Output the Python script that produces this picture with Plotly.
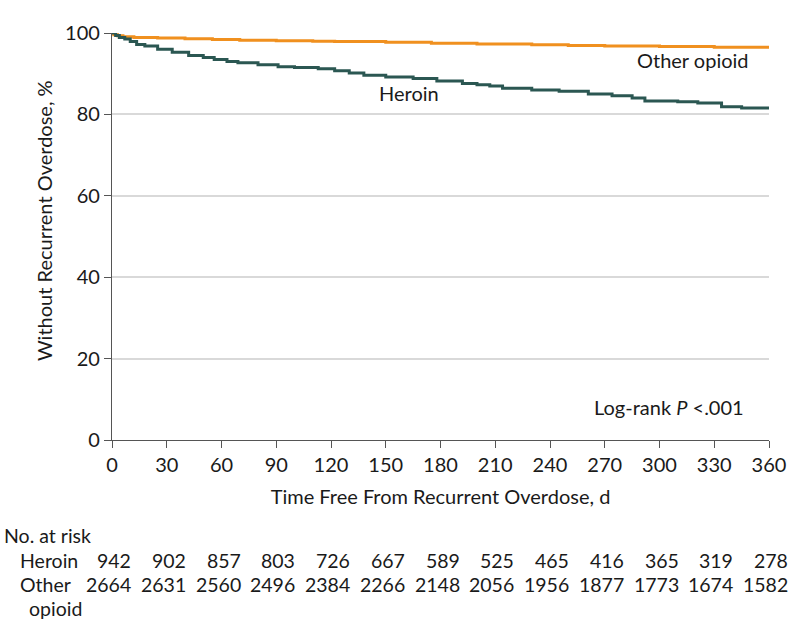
import plotly.graph_objects as go

# Kaplan-Meier step data
heroin_days = [0, 2, 4, 7, 10, 13.5, 18, 25, 33, 42, 50, 56, 63, 69, 80, 91, 100, 113, 122, 130, 138, 150, 165, 178, 192, 200, 207, 214, 230, 245, 261, 274, 285, 292, 310, 321, 334, 345, 360]
heroin_surv = [100, 99.4, 98.9, 98.5, 97.9, 97.2, 96.8, 96.0, 95.3, 94.5, 94.0, 93.5, 93.0, 92.7, 92.2, 91.7, 91.5, 91.2, 90.7, 90.2, 89.6, 89.2, 88.8, 88.2, 87.6, 87.3, 87.0, 86.4, 86.0, 85.7, 85.0, 84.6, 84.0, 83.3, 83.1, 82.8, 81.9, 81.6, 81.5]

other_days = [0, 1, 3, 6, 12, 25, 40, 55, 70, 90, 110, 122, 150, 175, 200, 230, 250, 270, 300, 330, 360]
other_surv = [100, 99.6, 99.3, 99.1, 98.9, 98.8, 98.6, 98.4, 98.2, 98.1, 98.0, 97.9, 97.7, 97.5, 97.3, 97.1, 96.9, 96.8, 96.7, 96.5, 96.4]

risk_days = [0, 30, 60, 90, 120, 150, 180, 210, 240, 270, 300, 330, 360]
risk_heroin = [942, 902, 857, 803, 726, 667, 589, 525, 465, 416, 365, 319, 278]
risk_other = [2664, 2631, 2560, 2496, 2384, 2266, 2148, 2056, 1956, 1877, 1773, 1674, 1582]

y_ticks = [0, 20, 40, 60, 80, 100]

FONT = "Lato"
TXT = "#1a1a1a"
HEROIN_COLOR = "#2b5752"
OTHER_COLOR = "#f0901f"
FS = 20
FT = 19.5

fig = go.Figure()
fig.add_trace(go.Scatter(x=other_days, y=other_surv, mode="lines",
                         line=dict(color=OTHER_COLOR, width=3, shape="hv"),
                         name="Other opioid", hoverinfo="skip"))
fig.add_trace(go.Scatter(x=heroin_days, y=heroin_surv, mode="lines",
                         line=dict(color=HEROIN_COLOR, width=3, shape="hv"),
                         name="Heroin", hoverinfo="skip"))

annotations = []
# curve labels
annotations.append(dict(x=163, y=85.2, xref="x", yref="y", text="Heroin", showarrow=False,
                        font=dict(family=FONT, size=FS, color=TXT), xanchor="center", yanchor="middle"))
annotations.append(dict(x=360, y=93.4, xref="x", yref="y", text="Other opioid", showarrow=False,
                        font=dict(family=FONT, size=FS, color=TXT), xanchor="right", yanchor="middle", xshift=-18))
annotations.append(dict(x=360, y=8.2, xref="x", yref="y", text="Log-rank <i>P</i> <.001", showarrow=False,
                        font=dict(family=FONT, size=FS, color=TXT), xanchor="right", yanchor="middle", xshift=-23))

# y-axis title (positioned as in the reference, slightly above centre)
annotations.append(dict(x=-0.1035, y=0.538, xref="paper", yref="paper", text="Without Recurrent Overdose, %",
                        showarrow=False, textangle=-90, xanchor="center", yanchor="middle",
                        font=dict(family=FONT, size=FS, color=TXT)))

# risk table
def py(pix):
    return (440 - pix) / 407.0

annotations.append(dict(x=-0.1674, y=py(535), xref="paper", yref="paper", text="No. at risk",
                        showarrow=False, xanchor="left", yanchor="middle",
                        font=dict(family=FONT, size=FT, color=TXT)))
annotations.append(dict(x=-0.1431, y=py(560), xref="paper", yref="paper", text="Heroin",
                        showarrow=False, xanchor="left", yanchor="middle",
                        font=dict(family=FONT, size=FT, color=TXT)))
annotations.append(dict(x=-0.1431, y=py(584), xref="paper", yref="paper", text="Other",
                        showarrow=False, xanchor="left", yanchor="middle",
                        font=dict(family=FONT, size=FT, color=TXT)))
annotations.append(dict(x=-0.129, y=py(608), xref="paper", yref="paper", text="opioid",
                        showarrow=False, xanchor="left", yanchor="middle",
                        font=dict(family=FONT, size=FT, color=TXT)))
for d, h, o in zip(risk_days, risk_heroin, risk_other):
    annotations.append(dict(x=d, y=py(560), xref="x", yref="paper", text=str(h), showarrow=False,
                            xanchor="right", yanchor="middle", xshift=21,
                            font=dict(family=FONT, size=FT, color=TXT)))
    annotations.append(dict(x=d, y=py(584), xref="x", yref="paper", text=str(o), showarrow=False,
                            xanchor="right", yanchor="middle", xshift=21,
                            font=dict(family=FONT, size=FT, color=TXT)))

fig.update_layout(
    width=794, height=637,
    margin=dict(l=112, r=25, t=33, b=197, autoexpand=False),
    plot_bgcolor="white", paper_bgcolor="white",
    showlegend=False,
    font=dict(family=FONT, size=FS, color=TXT),
    annotations=annotations,
    xaxis=dict(range=[0, 360], tickvals=risk_days, ticks="outside", ticklen=7, tickwidth=1.2,
               tickcolor="#555555", showline=True, linecolor="#555555", linewidth=1.2,
               showgrid=False, zeroline=False, automargin=False,
               tickfont=dict(family=FONT, size=FS, color=TXT),
               title=dict(text="Time Free From Recurrent Overdose, d", standoff=14,
                          font=dict(family=FONT, size=FS, color=TXT))),
    yaxis=dict(range=[0, 100], tickvals=y_ticks, ticks="outside", ticklen=7, tickwidth=1.2,
               tickcolor="#555555", showline=True, linecolor="#555555", linewidth=1.2,
               showgrid=True, gridcolor="#d9d9d9", gridwidth=1.5, zeroline=False, automargin=False,
               tickfont=dict(family=FONT, size=FS, color=TXT)),
)

fig.write_html("out.html", config={"displayModeBar": False},
               post_script="document.body.style.margin='0';")
